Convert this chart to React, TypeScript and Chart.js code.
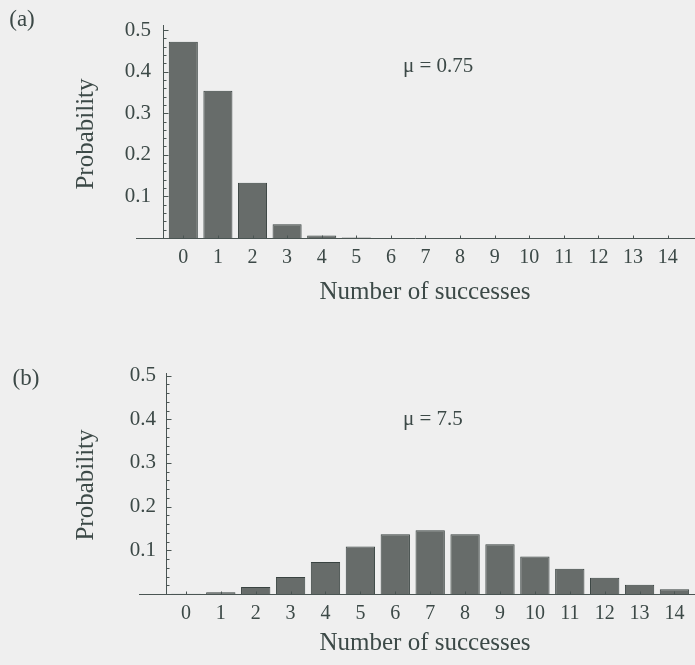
import React, { useEffect, useRef } from "react";
import { Chart, registerables } from "chart.js";

Chart.register(...registerables);

// ---- data ----
const successes = [0, 1, 2, 3, 4, 5, 6, 7, 8, 9, 10, 11, 12, 13, 14];
const probLow = [0.472, 0.354, 0.133, 0.033, 0.006, 0.001, 0.0001, 0, 0, 0, 0, 0, 0, 0, 0];
const probHigh = [0.0006, 0.004, 0.016, 0.039, 0.073, 0.109, 0.137, 0.146, 0.137, 0.114, 0.086, 0.058, 0.037, 0.021, 0.011];
const yTickValues = [0.1, 0.2, 0.3, 0.4, 0.5];
const yMinorStep = 0.02;
const muLow = "\u03bc = 0.75";
const muHigh = "\u03bc = 7.5";
const tagLow = "(a)";
const tagHigh = "(b)";
const xTitle = "Number of successes";
const yTitle = "Probability";

// ---- styles ----
const FONT = "'Liberation Serif', 'Times New Roman', serif";
const BG = "#efefef";
const TEXT = "#3c4947";
const AXIS = "#4a5553";
const BAR = "#676c6a";
const BAR_EDGE = "#394341";

type Panel = {
  values: number[];
  mu: string;
  tag: string;
  canvasTop: number;
  height: number;
  areaTop: number;
  areaBottom: number;
  yAxisX: number;
  xMin: number;
  xMax: number;
  yMax: number;
  xLineStart: number;
  yLabelPad: number;
  yTitleX: number;
  yTitleY: number;
  xTitleX: number;
  xTitleY: number;
  tagX: number;
  tagY: number;
  muX: number;
  muY: number;
};

const panels: Panel[] = [
  {
    values: probLow, mu: muLow, tag: tagLow,
    canvasTop: 0, height: 320, areaTop: 14, areaBottom: 238,
    yAxisX: 163, xMin: -0.587, xMax: 14.79, yMax: 0.513,
    xLineStart: 136, yLabelPad: 12,
    yTitleX: 86, yTitleY: 134, xTitleX: 425, xTitleY: 299,
    tagX: 22, tagY: 20, muX: 6.35, muY: 0.4,
  },
  {
    values: probHigh, mu: muHigh, tag: tagHigh,
    canvasTop: 340, height: 325, areaTop: 33, areaBottom: 254,
    yAxisX: 166, xMin: -0.57, xMax: 14.588, yMax: 0.506,
    xLineStart: 139, yLabelPad: 10,
    yTitleX: 86, yTitleY: 145, xTitleX: 425, xTitleY: 310,
    tagX: 26, tagY: 39, muX: 6.22, muY: 0.386,
  },
];

function PanelChart({ p }: { p: Panel }) {
  const ref = useRef<HTMLCanvasElement | null>(null);
  useEffect(() => {
    if (!ref.current) return;
    const deco = {
      id: "deco" + p.tag,
      afterDraw(chart: any) {
        const ctx = chart.ctx as CanvasRenderingContext2D;
        const xs = chart.scales.x;
        const ys = chart.scales.y;
        const { left, top } = chart.chartArea;
        ctx.save();
        ctx.strokeStyle = AXIS;
        ctx.lineWidth = 1;
        const y0 = Math.round(ys.getPixelForValue(0)) + 0.5;
        const ax = Math.round(left) + 0.5;
        ctx.beginPath();
        ctx.moveTo(p.xLineStart, y0);
        ctx.lineTo(chart.width, y0);
        ctx.moveTo(ax, y0);
        ctx.lineTo(ax, Math.round(top));
        for (let k = 1; k * yMinorStep <= ys.max + 1e-9; k++) {
          const v = k * yMinorStep;
          const py = Math.round(ys.getPixelForValue(v)) + 0.5;
          const major = k % 5 === 0;
          ctx.moveTo(ax, py);
          ctx.lineTo(ax + (major ? 5 : 3), py);
        }
        successes.forEach((s) => {
          const px = Math.round(xs.getPixelForValue(s)) + 0.5;
          ctx.moveTo(px, y0);
          ctx.lineTo(px, y0 - 3);
        });
        ctx.stroke();

        ctx.fillStyle = TEXT;
        // x title
        ctx.font = `25px ${FONT}`;
        ctx.textAlign = "center";
        ctx.textBaseline = "alphabetic";
        ctx.fillText(xTitle, p.xTitleX, p.xTitleY);
        // y title
        ctx.save();
        ctx.translate(p.yTitleX, p.yTitleY);
        ctx.rotate(-Math.PI / 2);
        ctx.textBaseline = "middle";
        ctx.fillText(yTitle, 0, 0);
        ctx.restore();
        // panel tag
        ctx.font = `23px ${FONT}`;
        ctx.textAlign = "center";
        ctx.textBaseline = "middle";
        ctx.fillText(p.tag, p.tagX, p.tagY);
        // mu
        ctx.font = `21px ${FONT}`;
        ctx.textAlign = "left";
        ctx.textBaseline = "alphabetic";
        ctx.fillText(p.mu, xs.getPixelForValue(p.muX), ys.getPixelForValue(p.muY));
        ctx.restore();
      },
    };

    const chart = new Chart(ref.current, {
      type: "bar",
      data: {
        datasets: [
          {
            data: successes.map((s, i) => ({ x: s, y: p.values[i] })),
            backgroundColor: BAR,
            borderColor: BAR_EDGE,
            borderWidth: 1,
            barPercentage: 0.84,
            categoryPercentage: 1,
          },
        ],
      },
      options: {
        animation: false,
        responsive: false,
        maintainAspectRatio: false,
        layout: { padding: { left: 0, right: 0, top: p.areaTop, bottom: 0 } },
        plugins: { legend: { display: false }, tooltip: { enabled: false }, title: { display: false } },
        scales: {
          x: {
            type: "linear",
            offset: false,
            min: p.xMin,
            max: p.xMax,
            grid: { display: false, drawTicks: false, offset: false },
            border: { display: false },
            afterBuildTicks: (axis: any) => {
              axis.ticks = successes.map((v) => ({ value: v }));
            },
            afterFit: (axis: any) => {
              axis.height = p.height - p.areaBottom;
            },
            ticks: {
              autoSkip: false,
              maxRotation: 0,
              padding: 8,
              color: TEXT,
              font: { family: FONT, size: 20 },
              callback: (v: any) => String(v),
            },
          },
          y: {
            min: 0,
            max: p.yMax,
            grid: { display: false, drawTicks: false },
            border: { display: false },
            afterBuildTicks: (axis: any) => {
              axis.ticks = yTickValues.map((v) => ({ value: v }));
            },
            afterFit: (axis: any) => {
              axis.width = p.yAxisX;
            },
            ticks: {
              padding: p.yLabelPad,
              color: TEXT,
              font: { family: FONT, size: 21 },
              callback: (v: any) => Number(v).toFixed(1),
            },
          },
        },
      },
      plugins: [deco],
    });
    return () => chart.destroy();
  }, [p]);

  return (
    <canvas
      ref={ref}
      width={695}
      height={p.height}
      style={{ position: "absolute", left: 0, top: p.canvasTop, width: 695, height: p.height, display: "block" }}
    />
  );
}

export default function App() {
  return (
    <div style={{ position: "fixed", left: 0, top: 0, width: 695, height: 665, background: BG, overflow: "hidden" }}>
      {panels.map((p) => (
        <PanelChart key={p.tag} p={p} />
      ))}
    </div>
  );
}
